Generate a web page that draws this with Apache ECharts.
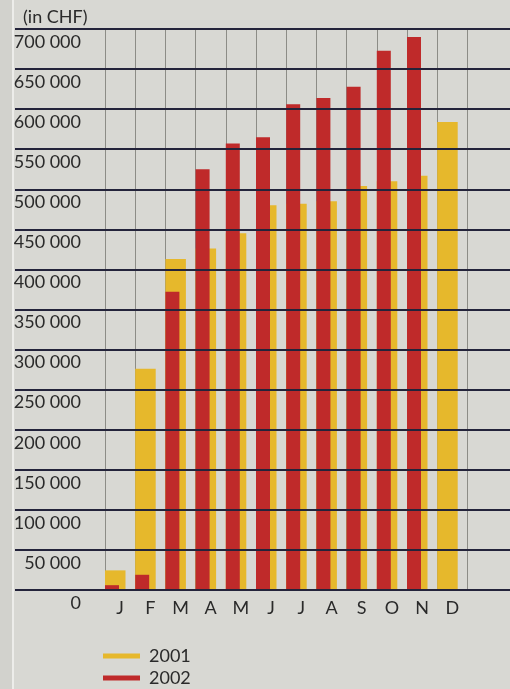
<!DOCTYPE html>
<html>
<head>
<meta charset="utf-8">
<script src="https://cdn.jsdelivr.net/npm/echarts@6/dist/echarts.min.js"></script>
<style>
html,body{margin:0;padding:0;background:#d8d8d3;}
#c{width:510px;height:689px;}
</style>
</head>
<body>
<div id="c"></div>
<script>
const months = ['J','F','M','A','M','J','J','A','S','O','N','D'];
const values2001 = [24500, 276000, 413000, 426000, 445000, 480000, 482000, 485000, 504000, 510000, 517000, 584000];
const values2002 = [6000, 19000, 372000, 525000, 557000, 565000, 606000, 614000, 628000, 673000, 690000, null];
const seriesNames = ['2001', '2002'];
const unitLabel = '(in CHF)';

const FONT = 'Lato';
const TXT = '#2a2a2a';
const chart = echarts.init(document.getElementById('c'), null, {renderer: 'canvas'});
chart.setOption({
  backgroundColor: '#d8d8d3',
  animation: false,
  textStyle: {fontFamily: FONT},
  title: {
    text: unitLabel, left: 18, top: 3,
    textStyle: {fontFamily: FONT, fontSize: 18, fontWeight: 'normal', color: TXT}
  },
  legend: {
    data: seriesNames, orient: 'vertical', left: 103, top: 647, height: 42,
    icon: 'rect', itemWidth: 37, itemHeight: 5, itemGap: 4, padding: 0,
    textStyle: {fontFamily: FONT, fontSize: 18, lineHeight: 18, color: TXT, padding: [0, 0, 0, 4]}
  },
  grid: [
    {left: 15, right: 0, top: 29, bottom: 99},
    {left: 105, width: 362.4, top: 29, bottom: 99}
  ],
  xAxis: [
    {gridIndex: 0, type: 'value', show: false, min: 0, max: 1},
    {gridIndex: 1, type: 'category', data: months,
     axisLine: {show: false}, axisTick: {show: false},
     axisLabel: {fontFamily: FONT, fontSize: 18, color: TXT, margin: 9},
     splitLine: {show: true, lineStyle: {color: '#8c8c86', width: 1}}}
  ],
  yAxis: [
    {gridIndex: 0, type: 'value', min: 0, max: 700000, interval: 50000, z: 5,
     axisLine: {show: false}, axisTick: {show: false}, axisLabel: {show: false},
     splitLine: {show: true, lineStyle: {color: '#23233a', width: 2}}},
    {gridIndex: 1, type: 'value', min: 0, max: 700000, interval: 50000,
     axisLine: {show: false}, axisTick: {show: false}, splitLine: {show: false},
     axisLabel: {fontFamily: FONT, fontSize: 18, color: TXT, margin: 24,
       verticalAlign: 'top', padding: [4, 0, 0, 0],
       formatter: v => v === 0 ? '0' : String(v).replace(/\B(?=(\d{3})+(?!\d))/g, ' ')}}
  ],
  series: [
    {name: seriesNames[0], type: 'bar', xAxisIndex: 1, yAxisIndex: 1, data: values2001,
     barWidth: 20.5, barGap: '-100%', itemStyle: {color: '#e6b82c'}},
    {name: seriesNames[1], type: 'bar', xAxisIndex: 1, yAxisIndex: 1, data: values2002,
     barWidth: 14, barGap: '-100%', itemStyle: {color: '#bf2a2a'}},
    {name: 'layout', type: 'bar', xAxisIndex: 1, yAxisIndex: 1,
     data: months.map(() => null), barWidth: '100%', barGap: '-100%', silent: true,
     itemStyle: {color: 'transparent'}}
  ],
  graphic: [
    {type: 'rect', left: 0, top: 0, shape: {width: 12, height: 689}, style: {fill: '#d2d2cd'}, silent: true},
    {type: 'rect', left: 12, top: 0, shape: {width: 2, height: 689}, style: {fill: '#ededea'}, silent: true}
  ]
});
</script>
</body>
</html>
